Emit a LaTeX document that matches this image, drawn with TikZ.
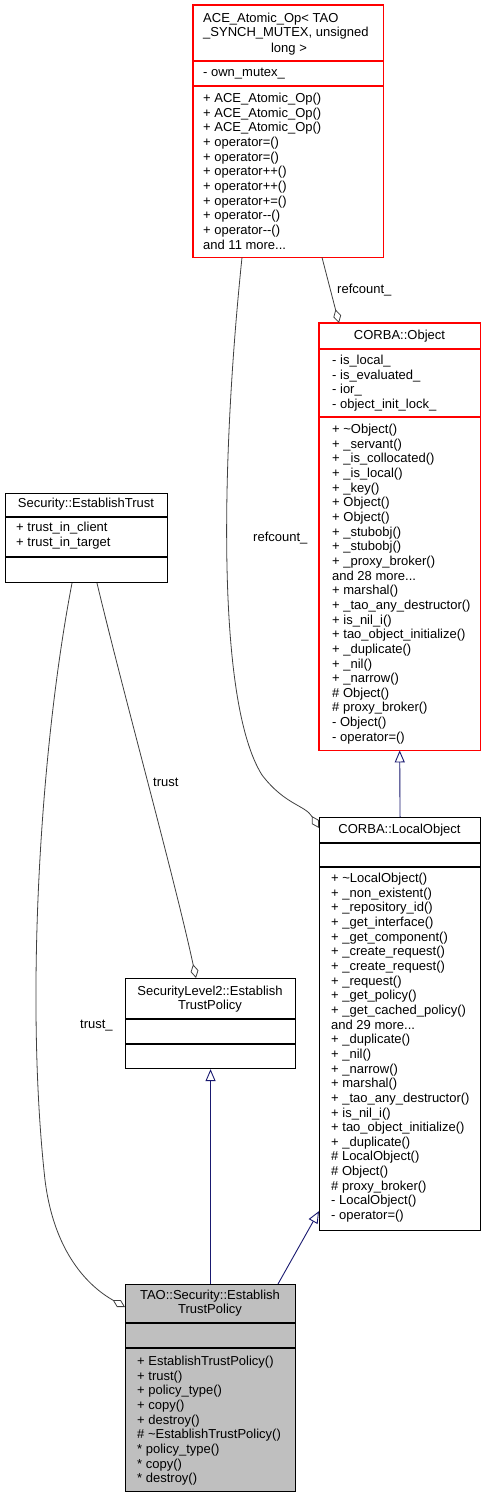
\documentclass[tikz,border=0pt]{standalone}
\usepackage{fontspec}
\setmainfont{Liberation Sans}
\usetikzlibrary{arrows.meta}
\definecolor{edgegray}{HTML}{404040}
\definecolor{inhblue}{HTML}{191970}
\definecolor{boxred}{HTML}{FF0000}
\definecolor{taogray}{HTML}{BFBFBF}
\newcommand{\firstline}{\rule{0pt}{10pt}}
\begin{document}
\begin{tikzpicture}[x=1pt,y=-1pt,
  every node/.style={font=\fontsize{13}{14.65}\selectfont, inner sep=0pt},
  clsbox/.style={draw=black, line width=1.1pt, anchor=north west, inner sep=0pt},
  redbox/.style={anchor=north west, inner sep=0pt},
  redline/.style={draw=boxred, line width=1.4pt},
  sep/.style={line width=1.1pt},
  mem/.style={anchor=north west, align=left, execute at begin node=\firstline},
  ttl/.style={anchor=north, align=center, execute at begin node=\firstline},
  lbl/.style={anchor=base west},
  usage/.style={draw=edgegray, line width=0.8pt, -{Diamond[open,length=14pt,width=8pt]}},
  inh/.style={draw=inhblue, line width=0.9pt, -{Triangle[open,length=12pt,width=10pt]}}
]
\fill[white] (0,0) rectangle (485,1499);
\useasboundingbox (0,0) rectangle (485,1499);

% CORBA::Object
\node[redbox, minimum width=161pt, minimum height=427pt] (obj) at (319,323) {};
\draw[redline] (obj.north west) rectangle (obj.south east);
\draw[redline] (319,349) -- (480,349);
\draw[redline] (319,417) -- (480,417);
\node[ttl] (objT) at (399.5,329) {CORBA::Object};
\node[mem] (objA) at (332,355) {- is\_local\_\\- is\_evaluated\_\\- ior\_\\- object\_init\_lock\_};
\node[mem] (objM) at (332,424) {+ \textasciitilde Object()\\+ \_servant()\\+ \_is\_collocated()\\+ \_is\_local()\\+ \_key()\\+ Object()\\+ Object()\\+ \_stubobj()\\+ \_stubobj()\\+ \_proxy\_broker()\\and 28 more...\\+ marshal()\\+ \_tao\_any\_destructor()\\+ is\_nil\_i()\\+ tao\_object\_initialize()\\+ \_duplicate()\\+ \_nil()\\+ \_narrow()\\\# Object()\\\# proxy\_broker()\\- Object()\\- operator=()};

% ACE_Atomic_Op
\node[redbox, minimum width=190pt, minimum height=252pt] (ace) at (193,5) {};
\node[mem] (aceT) at (203,12.7) {ACE\_Atomic\_Op< TAO\\\_SYNCH\_MUTEX, unsigned};
\node[ttl] (aceT2) at (289,42) {long >};
\node[mem] (aceA) at (203,66) {- own\_mutex\_};
\node[mem] (aceM) at (203,93) {+ ACE\_Atomic\_Op()\\+ ACE\_Atomic\_Op()\\+ ACE\_Atomic\_Op()\\+ operator=()\\+ operator=()\\+ operator++()\\+ operator++()\\+ operator+=()\\+ operator-{}-()\\+ operator-{}-()\\and 11 more...};
\draw[redline] (ace.north west) rectangle (ace.south east);
\draw[redline] (193,61) -- (383,61);
\draw[redline] (193,86) -- (383,86);

% CORBA::LocalObject
\node[clsbox, minimum width=161pt, minimum height=413pt] (lo) at (319,817) {};
\draw[sep] (319,843) -- (480,843) (319,867) -- (480,867);
\node[ttl] (loT) at (399.5,823) {CORBA::LocalObject};
\node[mem] (loM) at (331,873) {+ \textasciitilde LocalObject()\\+ \_non\_existent()\\+ \_repository\_id()\\+ \_get\_interface()\\+ \_get\_component()\\+ \_create\_request()\\+ \_create\_request()\\+ \_request()\\+ \_get\_policy()\\+ \_get\_cached\_policy()\\and 29 more...\\+ \_duplicate()\\+ \_nil()\\+ \_narrow()\\+ marshal()\\+ \_tao\_any\_destructor()\\+ is\_nil\_i()\\+ tao\_object\_initialize()\\+ \_duplicate()\\\# LocalObject()\\\# Object()\\\# proxy\_broker()\\- LocalObject()\\- operator=()};

% Security::EstablishTrust
\node[clsbox, minimum width=162pt, minimum height=89pt] (et) at (5,493) {};
\draw[sep] (5,517) -- (167,517) (5,557) -- (167,557);
\node[ttl] (etT) at (86,497.3) {Security::EstablishTrust};
\node[mem] (etA) at (16,522) {+ trust\_in\_client\\+ trust\_in\_target};

% SecurityLevel2::EstablishTrustPolicy
\node[clsbox, minimum width=170pt, minimum height=90pt] (sl2) at (125,978) {};
\draw[sep] (125,1019) -- (295,1019) (125,1044) -- (295,1044);
\node[ttl] (sl2T) at (210,985.5) {SecurityLevel2::Establish\\TrustPolicy};

% TAO::Security::EstablishTrustPolicy
\node[clsbox, fill=taogray, minimum width=170pt, minimum height=207pt] (tao) at (125,1284) {};
\draw[sep] (125,1323) -- (295,1323) (125,1348) -- (295,1348);
\node[ttl] (taoT) at (210,1289.5) {TAO::Security::Establish\\TrustPolicy};
\node[mem] (taoM) at (137,1356) {+ EstablishTrustPolicy()\\+ trust()\\+ policy\_type()\\+ copy()\\+ destroy()\\\# \textasciitilde EstablishTrustPolicy()\\* policy\_type()\\* copy()\\* destroy()};

% usage connectors
\draw[usage] ([xshift=129pt]ace.south west) -- ([xshift=20pt]obj.north west);
\node[lbl] (l1) at (337,293) {refcount\_};
\draw[usage] ([xshift=49pt]ace.south west) .. controls (222,450) and (215,700) .. (262,775) .. controls (285,805) and (305,805) .. ([yshift=-11pt]lo.north west);
\node[lbl] (l2) at (253,541) {refcount\_};
\draw[usage] ([xshift=92pt]et.south west) .. controls (125,700) and (175,880) .. ([xshift=71pt]sl2.north west);
\node[lbl] (l3) at (153,786) {trust};
\draw[usage] ([xshift=67pt]et.south west) .. controls (40,750) and (25,1000) .. (45,1180) .. controls (55,1260) and (95,1290) .. ([yshift=-23pt]tao.north west);
\node[lbl] (l4) at (80,1028) {trust\_};

% inheritance connectors
\draw[inh] (tao.north) -- (sl2.south);
\draw[inh] ([xshift=153pt]tao.north west) -- ([yshift=20pt]lo.south west);
\draw[inh] (lo.north) -- (obj.south);
\end{tikzpicture}
\end{document}
